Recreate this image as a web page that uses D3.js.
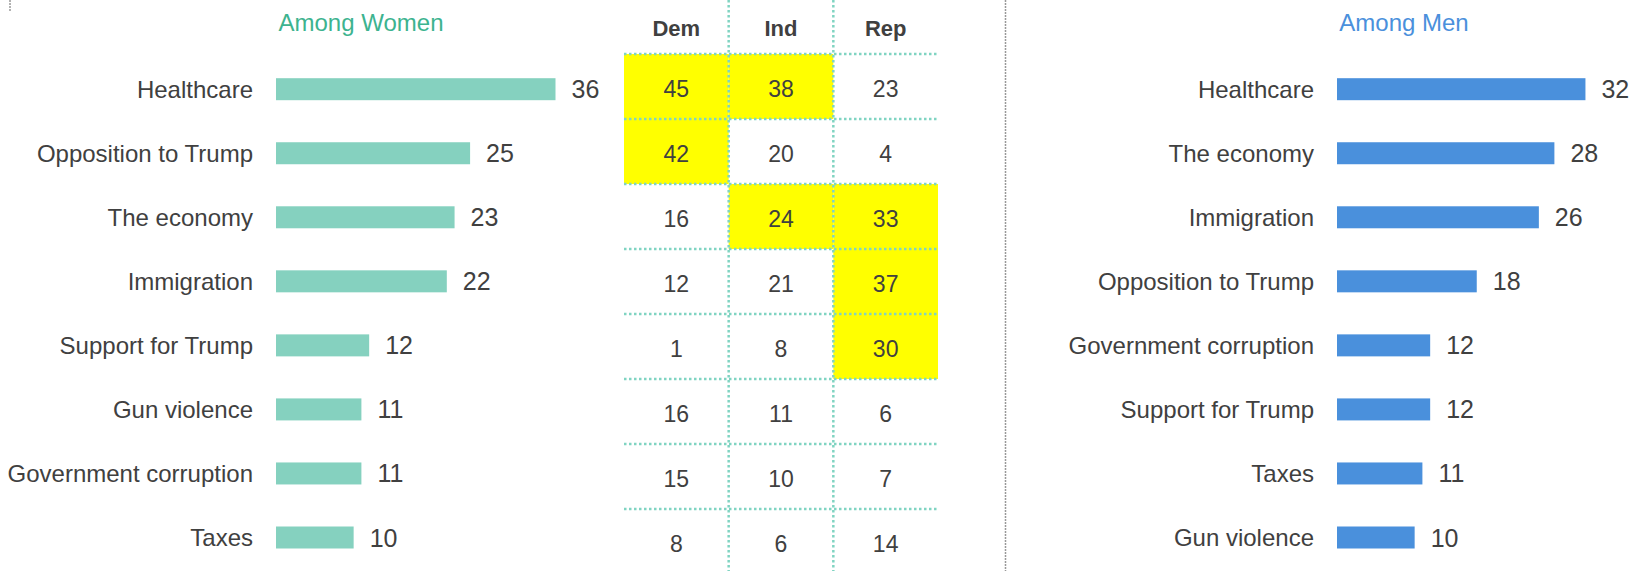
<!DOCTYPE html>
<html>
  <head>
    <meta charset="utf-8">
    <script type="text/javascript" src="https://cdn.jsdelivr.net/npm/d3@7"></script>
    <style>
      body { margin: 0; background: #fff; }
      svg { display: block; font-family: "Liberation Sans", Arial, sans-serif; }
      .lbl text { font-size: 24px; fill: #404040; }
      .val { font-size: 25px; fill: #404040; }
      .cell { font-size: 23px; fill: #404040; }
      .head { font-size: 22px; font-weight: bold; fill: #404040; }
    </style>
  </head>
  <body>
    <script type="text/javascript">
      // Women: top issues
      var womenIssues = ["Healthcare", "Opposition to Trump", "The economy", "Immigration",
                         "Support for Trump", "Gun violence", "Government corruption", "Taxes"];
      var womenValues = [36, 25, 23, 22, 12, 11, 11, 10];

      // Women by party (same row order as womenIssues)
      var parties = ["Dem", "Ind", "Rep"];
      var demValues = [45, 42, 16, 12, 1, 16, 15, 8];
      var indValues = [38, 20, 24, 21, 8, 11, 10, 6];
      var repValues = [23, 4, 33, 37, 30, 6, 7, 14];
      // highlighted cells (1 = yellow)
      var demHigh = [1, 1, 0, 0, 0, 0, 0, 0];
      var indHigh = [1, 0, 1, 0, 0, 0, 0, 0];
      var repHigh = [0, 0, 1, 1, 1, 0, 0, 0];

      // Men: top issues
      var menIssues = ["Healthcare", "The economy", "Immigration", "Opposition to Trump",
                       "Government corruption", "Support for Trump", "Taxes", "Gun violence"];
      var menValues = [32, 28, 26, 18, 12, 12, 11, 10];

      var width = 1635;
      var height = 571;

      var svg = d3.select("body")
                  .append("svg")
                  .attr("width", width)
                  .attr("height", height);

      // shared value scale for both bar charts
      var x = d3.scaleLinear().domain([0, 36]).range([0, 279.5]);
      var barH = 22;

      function barChart(issues, values, left, color, title, titleColor, titleX) {
        var y = d3.scalePoint().domain(issues).range([89.2, 537.5]);
        var g = svg.append("g").attr("transform", "translate(" + left + ",0)");

        g.selectAll("rect")
         .data(values)
         .enter()
         .append("rect")
         .attr("x", 0)
         .attr("y", function(d, i) { return y(issues[i]) - barH / 2; })
         .attr("width", function(d) { return x(d); })
         .attr("height", barH)
         .attr("fill", color);

        g.selectAll("text.val")
         .data(values)
         .enter()
         .append("text")
         .attr("class", "val")
         .attr("x", function(d) { return x(d) + 16; })
         .attr("y", function(d, i) { return y(issues[i]) + 9; })
         .text(function(d) { return d; });

        // category labels via a left axis without line and ticks
        var axis = g.append("g")
                    .attr("class", "lbl")
                    .attr("transform", "translate(-23,0)")
                    .call(d3.axisLeft(y).tickSize(0).tickPadding(0));
        axis.select(".domain").remove();
        axis.selectAll("text")
            .attr("font-family", null)
            .attr("dy", "0.33em");

        svg.append("text")
           .attr("x", titleX)
           .attr("y", 31)
           .attr("text-anchor", "middle")
           .attr("font-size", "24px")
           .attr("fill", titleColor)
           .text(title);
      }

      barChart(womenIssues, womenValues, 276, "#85d1bf", "Among Women", "#3db38f", 361);
      barChart(menIssues, menValues, 1337, "#4a90dc", "Among Men", "#4a90dc", 1404);

      // Party table
      var colX = d3.scaleBand().domain(parties).range([624, 938]);
      var rowY = d3.scaleBand().domain(womenIssues).range([54, 574]);
      var tableVals = [demValues, indValues, repValues];
      var tableHigh = [demHigh, indHigh, repHigh];

      var cells = [];
      parties.forEach(function(p, c) {
        womenIssues.forEach(function(issue, r) {
          cells.push({ party: p, issue: issue, value: tableVals[c][r], high: tableHigh[c][r] });
        });
      });

      var table = svg.append("g");

      table.selectAll("rect")
           .data(cells.filter(function(d) { return d.high; }))
           .enter()
           .append("rect")
           .attr("x", function(d) { return colX(d.party); })
           .attr("y", function(d) { return rowY(d.issue); })
           .attr("width", colX.bandwidth())
           .attr("height", rowY.bandwidth())
           .attr("fill", "#ffff00");

      table.selectAll("text.cell")
           .data(cells)
           .enter()
           .append("text")
           .attr("class", "cell")
           .attr("text-anchor", "middle")
           .attr("x", function(d) { return colX(d.party) + colX.bandwidth() / 2; })
           .attr("y", function(d) { return rowY(d.issue) + rowY.bandwidth() / 2 + 10; })
           .text(function(d) { return d.value; });

      table.selectAll("text.head")
           .data(parties)
           .enter()
           .append("text")
           .attr("class", "head")
           .attr("text-anchor", "middle")
           .attr("x", function(d) { return colX(d) + colX.bandwidth() / 2; })
           .attr("y", 36)
           .text(function(d) { return d; });

      // dotted grid lines
      var dotColor = "#80d4c2";
      table.selectAll("line.h")
           .data(womenIssues)
           .enter()
           .append("line")
           .attr("x1", colX.range()[0])
           .attr("x2", colX.range()[1])
           .attr("y1", function(d) { return rowY(d); })
           .attr("y2", function(d) { return rowY(d); })
           .attr("stroke", dotColor)
           .attr("stroke-width", 2.5)
           .attr("stroke-dasharray", "2.5 2.5");

      table.selectAll("line.v")
           .data(parties.slice(1))
           .enter()
           .append("line")
           .attr("x1", function(d) { return colX(d); })
           .attr("x2", function(d) { return colX(d); })
           .attr("y1", 0)
           .attr("y2", height)
           .attr("stroke", dotColor)
           .attr("stroke-width", 2.5)
           .attr("stroke-dasharray", "2.5 2.5");

      // gray separators
      svg.append("line")
         .attr("x1", 1005.5).attr("x2", 1005.5)
         .attr("y1", 0).attr("y2", height)
         .attr("stroke", "#999")
         .attr("stroke-width", 1.5)
         .attr("stroke-dasharray", "2 1");
      svg.append("line")
         .attr("x1", 10).attr("x2", 10)
         .attr("y1", 0).attr("y2", 12)
         .attr("stroke", "#999")
         .attr("stroke-width", 1.5)
         .attr("stroke-dasharray", "2 1");
    </script>
  </body>
</html>
